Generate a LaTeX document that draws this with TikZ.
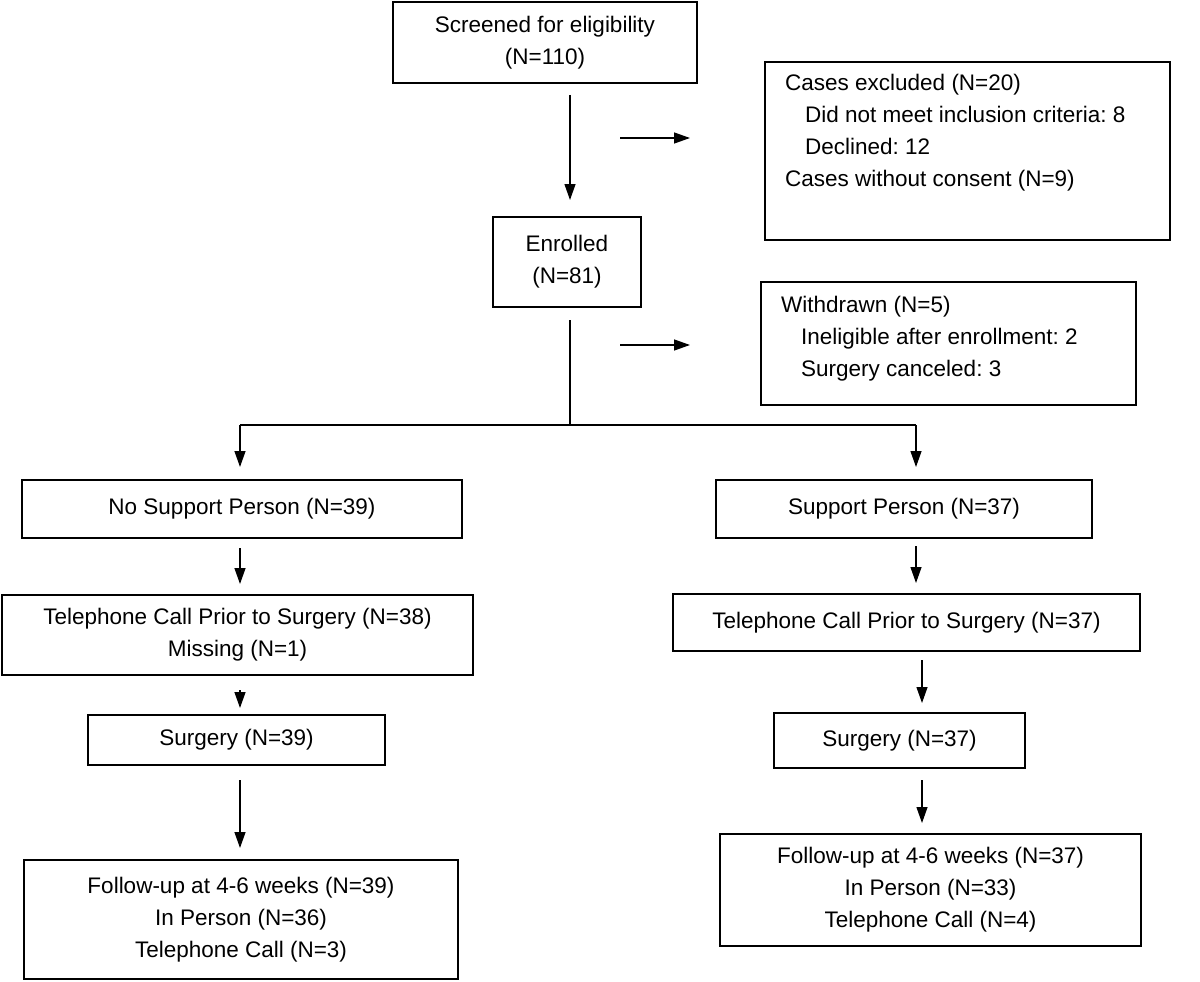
\documentclass[tikz,border=0pt]{standalone}
\usepackage{fontspec}
\setmainfont{Liberation Sans}
\frenchspacing
\usetikzlibrary{arrows.meta}
\begin{document}
\begin{tikzpicture}[x=1pt,y=-1pt,
  box/.style={draw,line width=1.2pt,inner sep=0pt},
  lbl/.style={font=\fontsize{22.5}{32}\selectfont,align=center},
  lbll/.style={font=\fontsize{22.5}{32}\selectfont,align=left,anchor=north west,inner sep=0pt},
  arr/.style={line width=1.3pt,-{Triangle[length=16pt,width=11pt]}},
  ln/.style={line width=1.3pt}]
\useasboundingbox (0,0) rectangle (1200,982);
% boxes
\draw[box] (393,2) rectangle (697,83) node[lbl,midway] (scr) {Screened for eligibility\\(N=110)};
\draw[box] (765,62) rectangle (1170,240);
\node[lbll] (exc) at (785,74) {Cases excluded (N=20)\\\hspace{20pt}Did not meet inclusion criteria: 8\\\hspace{20pt}Declined: 12\\Cases without consent (N=9)};
\draw[box] (493,217) rectangle (641,307) node[lbl,midway] (enr) {Enrolled\\(N=81)};
\draw[box] (761,282) rectangle (1136,405);
\node[lbll] (wd) at (781,296) {Withdrawn (N=5)\\\hspace{20pt}Ineligible after enrollment: 2\\\hspace{20pt}Surgery canceled: 3};
\draw[box] (22,480) rectangle (462,538) node[lbl,midway] (nsp) {No Support Person (N=39)};
\draw[box] (716,480) rectangle (1092,538) node[lbl,midway] (sp) {Support Person (N=37)};
\draw[box] (2,595) rectangle (473,675) node[lbl,midway] (tl) {Telephone Call Prior to Surgery (N=38)\\Missing (N=1)};
\draw[box] (673,594) rectangle (1140,651) node[lbl,midway] (tr) {Telephone Call Prior to Surgery (N=37)};
\draw[box] (88,715) rectangle (385,765) node[lbl,midway] (sl) {Surgery (N=39)};
\draw[box] (774,713) rectangle (1025,768) node[lbl,midway] (sr) {Surgery (N=37)};
\draw[box] (24,860) rectangle (458,979) node[lbl,midway] (fl) {Follow-up at 4-6 weeks (N=39)\\In Person (N=36)\\Telephone Call (N=3)};
\draw[box] (720,834) rectangle (1141,946) node[lbl,midway] (fr) {Follow-up at 4-6 weeks (N=37)\\In Person (N=33)\\Telephone Call (N=4)};
% connectors
\coordinate (a1) at (570,95); \coordinate (a2) at (570,200);
\draw[arr] (a1) -- (a2);
\coordinate (b1) at (620,138); \coordinate (b2) at (690,138);
\draw[arr] (b1) -- (b2);
\coordinate (c1) at (570,320); \coordinate (c2) at (570,425);
\coordinate (cl) at (240,425); \coordinate (cr) at (916,425);
\draw[ln] (c1) -- (c2);
\draw[ln] (cl) -- (cr);
\draw[arr] (cl) -- (240,467);
\draw[arr] (cr) -- (916,467);
\coordinate (d1) at (620,345); \coordinate (d2) at (690,345);
\draw[arr] (d1) -- (d2);
\draw[arr] (240,548) -- (240,584);
\draw[arr] (916,546) -- (916,583);
\draw[arr] (240,690) -- (240,708);
\draw[arr] (922,660) -- (922,703);
\draw[arr] (240,780) -- (240,848);
\draw[arr] (922,780) -- (922,823);
\end{tikzpicture}
\end{document}
